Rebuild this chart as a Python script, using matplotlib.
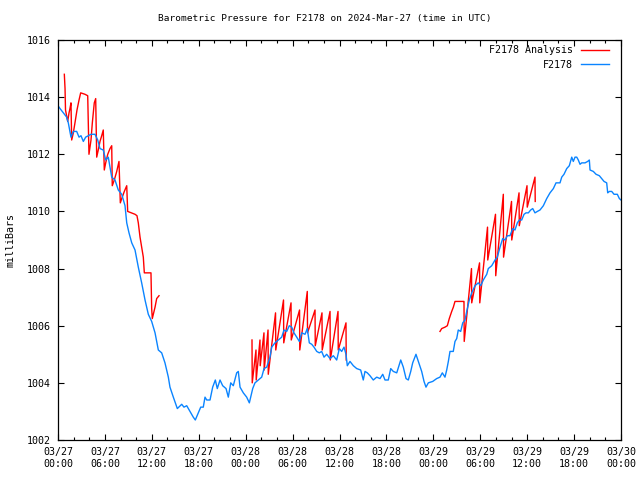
import numpy as np
import matplotlib
matplotlib.use("Agg")
import matplotlib.pyplot as plt
import matplotlib.dates as mdates

plt.rcParams["font.family"] = ["DejaVu Sans Mono"]
plt.rcParams["font.size"] = 7.2

start = np.datetime64("2024-03-27T00:00:00")

# observed station pressure (hours since 03/27 00:00 UTC, mbar)
obs_hours = [
    0.0, 0.26, 0.68, 1.11, 1.32, 1.66, 1.96, 2.39, 2.69, 2.94, 3.24, 3.54, 3.88, 4.22, 4.73,
    5.08, 5.37, 5.79, 6.10, 6.43, 6.87, 7.29, 7.71, 8.15, 8.57, 8.79, 9.08, 9.43, 9.85, 10.27,
    10.70, 11.13, 11.55, 11.98, 12.41, 12.83, 13.26, 13.68, 14.11, 14.32, 14.75, 15.26, 15.82,
    16.11, 16.46, 16.88, 17.30, 17.56, 17.94, 18.25, 18.58, 18.80, 19.02, 19.44, 19.78, 20.12,
    20.37, 20.72, 21.06, 21.49, 21.78, 22.09, 22.42, 22.85, 23.06, 23.28, 23.70, 24.13, 24.47,
    24.90, 25.19, 25.62, 26.05, 26.35, 26.69, 27.11, 27.33, 27.75, 28.17, 28.61, 28.90, 29.25,
    29.58, 29.89, 30.18, 30.53, 30.86, 31.17, 31.59, 31.88, 32.14, 32.45, 32.74, 33.09, 33.42,
    33.72, 34.02, 34.36, 34.79, 35.21, 35.64, 35.98, 36.28, 36.58, 36.83, 37.00, 37.34, 37.77,
    38.20, 38.71, 39.04, 39.26, 39.56, 39.90, 40.32, 40.76, 41.18, 41.53, 41.82, 42.24, 42.55,
    42.88, 43.32, 43.83, 44.16, 44.51, 44.80, 45.11, 45.36, 45.78, 46.08, 46.51, 46.81, 47.06,
    47.36, 47.92, 48.43, 48.85, 49.15, 49.49, 49.71, 49.92, 50.13, 50.55, 50.77, 50.99, 51.19,
    51.50, 51.76, 52.05, 52.27, 52.60, 52.91, 53.33, 53.75, 54.06, 54.39, 54.83, 55.03, 55.47,
    55.89, 56.18, 56.53, 56.87, 57.17, 57.46, 57.80, 58.15, 58.44, 58.74, 59.00, 59.30, 59.60,
    59.85, 60.15, 60.45, 60.71, 61.00, 61.30, 61.64, 62.07, 62.50, 62.92, 63.35, 63.69, 64.20,
    64.42, 64.71, 65.06, 65.39, 65.70, 65.90, 66.12, 66.34, 66.54, 66.76, 66.98, 67.40, 67.74,
    67.95, 68.04, 68.46, 68.81, 69.23, 69.53, 69.83, 70.17, 70.30, 70.51, 70.81, 71.11, 71.53,
    71.79, 72.0,
]
obs_mbar = [
    1013.7, 1013.6, 1013.45, 1013.3, 1013.1, 1012.6, 1012.8, 1012.8, 1012.6, 1012.65, 1012.45,
    1012.6, 1012.65, 1012.7, 1012.7, 1012.5, 1012.2, 1012.15, 1011.8, 1011.9, 1011.2, 1011.1,
    1010.75, 1010.6, 1010.2, 1009.6, 1009.25, 1008.9, 1008.65, 1008.05, 1007.5, 1006.9, 1006.4,
    1006.15, 1005.75, 1005.15, 1005.05, 1004.7, 1004.2, 1003.85, 1003.5, 1003.1, 1003.25,
    1003.15, 1003.2, 1003.0, 1002.8, 1002.7, 1002.95, 1003.15, 1003.15, 1003.5, 1003.4, 1003.4,
    1003.85, 1004.1, 1003.8, 1004.1, 1003.9, 1003.8, 1003.5, 1004.0, 1003.9, 1004.35, 1004.4,
    1003.85, 1003.65, 1003.5, 1003.3, 1003.8, 1004.0, 1004.1, 1004.2, 1004.5, 1004.55, 1004.9,
    1005.25, 1005.4, 1005.5, 1005.6, 1005.85, 1005.8, 1006.0, 1005.95, 1005.75, 1005.6, 1005.45,
    1005.75, 1005.7, 1005.9, 1005.4, 1005.35, 1005.25, 1005.1, 1005.05, 1005.1, 1004.9, 1005.0,
    1004.85, 1004.95, 1004.8, 1005.2, 1005.1, 1005.25, 1005.0, 1004.6, 1004.75, 1004.6, 1004.5,
    1004.45, 1004.1, 1004.4, 1004.35, 1004.25, 1004.1, 1004.2, 1004.15, 1004.3, 1004.1, 1004.1,
    1004.5, 1004.4, 1004.35, 1004.8, 1004.55, 1004.15, 1004.1, 1004.4, 1004.7, 1005.0, 1004.75,
    1004.4, 1004.05, 1003.85, 1004.0, 1004.05, 1004.15, 1004.2, 1004.35, 1004.2, 1004.45,
    1004.75, 1005.1, 1005.1, 1005.45, 1005.55, 1005.85, 1005.8, 1006.1, 1006.2, 1006.5, 1006.9,
    1007.15, 1007.4, 1007.5, 1007.4, 1007.6, 1007.8, 1008.0, 1008.1, 1008.3, 1008.4, 1008.75,
    1009.05, 1009.0, 1009.15, 1009.15, 1009.4, 1009.35, 1009.6, 1009.7, 1009.7, 1009.9, 1009.95,
    1009.95, 1010.05, 1010.1, 1009.95, 1010.0, 1010.05, 1010.2, 1010.45, 1010.65, 1010.8,
    1011.0, 1011.0, 1011.2, 1011.3, 1011.5, 1011.6, 1011.9, 1011.75, 1011.9, 1011.9, 1011.8,
    1011.65, 1011.7, 1011.7, 1011.75, 1011.8, 1011.45, 1011.4, 1011.3, 1011.25, 1011.15,
    1011.05, 1011.0, 1010.65, 1010.7, 1010.7, 1010.6, 1010.6, 1010.45, 1010.4,
]

# analysis, first run (irregular)
ana1_hours = [
    0.81, 0.90, 0.96, 1.24, 1.41, 1.53, 1.66, 1.75, 1.96, 2.17, 2.43, 2.69, 2.90, 3.45, 3.80,
    3.96, 4.22, 4.39, 4.64, 4.82, 4.95, 5.15, 5.37, 5.59, 5.79, 5.92, 6.10, 6.36, 6.65, 6.87,
    6.94, 7.20, 7.51, 7.80, 7.97, 8.15, 8.48, 8.79, 8.91, 9.85, 10.10, 10.27, 10.49, 10.70,
    10.91, 11.04, 11.89, 11.98, 12.06, 12.41, 12.62, 12.92,
]
ana1_mbar = [
    1014.8, 1014.3, 1013.55, 1013.15, 1013.45, 1013.6, 1013.8, 1012.5, 1012.75, 1013.1, 1013.55,
    1013.9, 1014.15, 1014.1, 1014.05, 1012.0, 1012.5, 1013.1, 1013.8, 1013.95, 1011.9, 1012.15,
    1012.45, 1012.65, 1012.85, 1011.45, 1011.7, 1012.0, 1012.2, 1012.3, 1010.9, 1011.1, 1011.4,
    1011.75, 1010.3, 1010.45, 1010.7, 1010.9, 1010.0, 1009.9, 1009.85, 1009.6, 1009.1, 1008.75,
    1008.4, 1007.85, 1007.85, 1006.6, 1006.25, 1006.65, 1006.95, 1007.05,
]

# analysis, second run (hourly resets: value before and after each reset)
ana2_reset = [24.81, 25.32, 25.83, 26.34, 26.86, 27.82, 28.84, 29.80, 30.89, 31.88, 32.87,
              33.76, 34.79, 35.81, 36.83]
ana2_high = [1005.5, 1005.15, 1005.5, 1005.75, 1005.85, 1006.45, 1006.9, 1006.8, 1006.55,
             1007.2, 1006.55, 1006.45, 1006.5, 1006.5, 1006.1]
ana2_low = [1004.0, 1004.1, 1004.6, 1004.45, 1004.3, 1005.15, 1005.4, 1005.5, 1005.15, 1005.75,
            1005.3, 1005.15, 1004.8, 1005.15, 1004.8]

# analysis, third run
ana3_hours = [48.85, 49.07, 49.49, 49.79, 50.04, 50.35, 50.56, 50.77, 51.84]
ana3_mbar = [1005.8, 1005.9, 1005.95, 1006.0, 1006.25, 1006.5, 1006.65, 1006.85, 1006.85]
ana3_reset = [51.92, 52.88, 53.91, 54.93, 55.95, 56.95, 58.0, 58.96, 59.98, 61.0]
ana3_high = [1006.85, 1008.0, 1008.2, 1009.45, 1009.9, 1010.6, 1010.35, 1010.65, 1010.9, 1011.2]
ana3_low = [1005.45, 1006.8, 1006.8, 1008.3, 1007.75, 1008.4, 1009.0, 1009.5, 1010.15, 1010.35]


def sawtooth(reset, high, low):
    h, v = [], []
    for t, a, b in zip(reset, high, low):
        h += [t, t + 0.03]
        v += [a, b]
    return h, v


def to_time(hours):
    secs = np.round(np.asarray(hours, dtype=float) * 3600).astype("int64")
    return start + secs.astype("timedelta64[s]")


s2h, s2v = sawtooth(ana2_reset, ana2_high, ana2_low)
s3h, s3v = sawtooth(ana3_reset, ana3_high, ana3_low)
ana_hours = ana1_hours + [13.0] + s2h + [40.0] + ana3_hours + s3h
ana_mbar = ana1_mbar + [np.nan] + s2v + [np.nan] + ana3_mbar + s3v

fig = plt.figure(figsize=(6.4, 4.8), dpi=100)
ax = fig.add_axes([58 / 640, 40 / 480, 563 / 640, 400 / 480])

ax.plot(to_time(ana_hours), ana_mbar, color="#ff0000", lw=1.0, label="F2178 Analysis")
ax.plot(to_time(obs_hours), obs_mbar, color="#0a84ff", lw=1.0, label="F2178")

ax.set_xlim(start, start + np.timedelta64(72, "h"))
ax.set_ylim(1002, 1016)
ax.set_yticks(np.arange(1002, 1017, 2))
ax.xaxis.set_major_locator(mdates.HourLocator(byhour=[0, 6, 12, 18]))
ax.xaxis.set_minor_locator(mdates.HourLocator(byhour=range(0, 24, 2)))
ax.xaxis.set_major_formatter(mdates.DateFormatter("%m/%d\n%H:%M"))
ax.tick_params(which="both", direction="in", top=True, right=True, width=0.8, color="black")
ax.tick_params(which="major", length=4.5, pad=5)
ax.tick_params(which="minor", length=2.5)
for s in ax.spines.values():
    s.set_linewidth(0.9)

ax.set_ylabel("milliBars", labelpad=8)
fig.text(325 / 640, 1 - 19 / 480, "Barometric Pressure for F2178 on 2024-Mar-27 (time in UTC)",
         fontsize=6.8, ha="center", va="center")
ax.legend(loc="upper right", bbox_to_anchor=(0.9876, 1.0), frameon=False, markerfirst=False,
          handlelength=2.8, handletextpad=0.8, labelspacing=0.45, borderaxespad=0.15)

fig.savefig("out.png", dpi=100)
